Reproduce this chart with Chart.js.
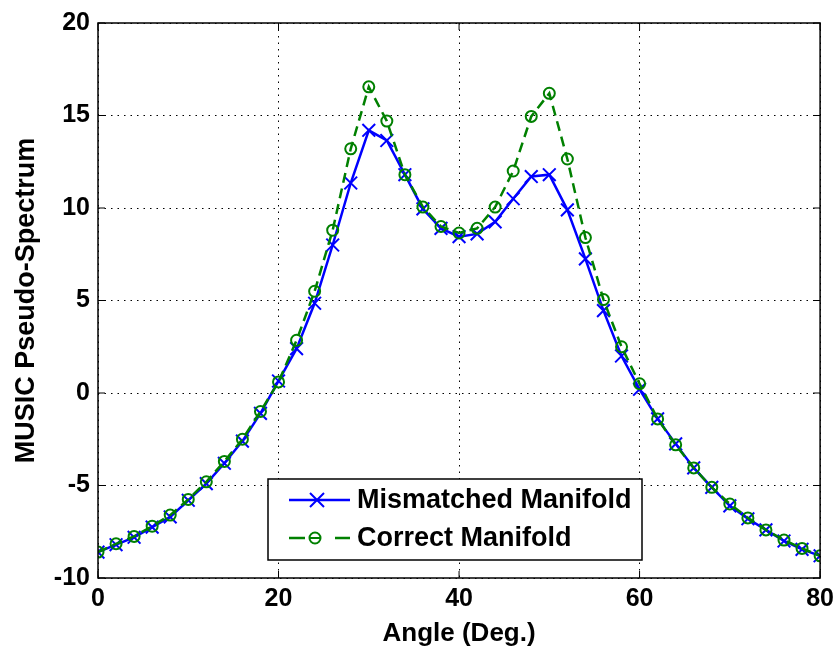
<!DOCTYPE html>
<html>
<head>
<meta charset="utf-8">
<script src="https://cdn.jsdelivr.net/npm/chart.js@4/dist/chart.umd.min.js"></script>
<style>
  html, body { margin: 0; padding: 0; background: #fff; }
  #wrap { width: 840px; height: 649px; }
</style>
</head>
<body>
<div id="wrap"><canvas id="musicChart" width="840" height="649"></canvas></div>
<script>
const angles = [0, 2, 4, 6, 8, 10, 12, 14, 16, 18, 20, 22, 24, 26, 28, 30, 32, 34, 36, 38, 40,
                42, 44, 46, 48, 50, 52, 54, 56, 58, 60, 62, 64, 66, 68, 70, 72, 74, 76, 78, 80];
const mismatched = [-8.6, -8.2, -7.8, -7.25, -6.7, -5.8, -4.9, -3.8, -2.6, -1.1, 0.65,
                    2.4, 4.85, 8.0, 11.35, 14.2, 13.65, 11.8, 9.95, 8.9, 8.45,
                    8.6, 9.25, 10.5, 11.7, 11.8, 9.9, 7.25, 4.45, 2.0, 0.2,
                    -1.4, -2.75, -4.05, -5.1, -6.1, -6.8, -7.4, -8.0, -8.45, -8.8];
const correct = [-8.6, -8.15, -7.75, -7.2, -6.6, -5.75, -4.8, -3.7, -2.5, -1.0, 0.6,
                 2.85, 5.5, 8.8, 13.2, 16.55, 14.7, 11.8, 10.05, 9.0, 8.65,
                 8.9, 10.05, 12.0, 14.95, 16.2, 12.65, 8.4, 5.05, 2.5, 0.5,
                 -1.4, -2.8, -4.05, -5.1, -6.0, -6.75, -7.4, -7.95, -8.4, -8.8];
const seriesNames = ["Mismatched Manifold", "Correct Manifold"];
const xTicks = [0, 20, 40, 60, 80];
const yTicks = [-10, -5, 0, 5, 10, 15, 20];

const blue = "#0000ff";
const green = "#008000";
const fam = "'Liberation Sans', Arial, sans-serif";
const tickFont = { family: fam, size: 25, weight: "bold" };

function toPoints(ys) {
  return angles.map((a, i) => ({ x: a, y: ys[i] }));
}

// box frame, inward ticks and the legend inside the plot
const matlabFrame = {
  id: "matlabFrame",
  afterDraw(chart) {
    const c = chart.ctx;
    const a = chart.chartArea;
    const xs = chart.scales.x, ys = chart.scales.y;
    c.save();
    c.strokeStyle = "#000";
    c.lineWidth = 1.5;
    c.strokeRect(a.left, a.top, a.right - a.left, a.bottom - a.top);
    c.lineWidth = 1;
    xTicks.forEach(v => {
      const p = xs.getPixelForValue(v);
      c.beginPath();
      c.moveTo(p, a.bottom); c.lineTo(p, a.bottom - 7);
      c.moveTo(p, a.top); c.lineTo(p, a.top + 7);
      c.stroke();
    });
    yTicks.forEach(v => {
      const p = ys.getPixelForValue(v);
      c.beginPath();
      c.moveTo(a.left, p); c.lineTo(a.left + 7, p);
      c.moveTo(a.right, p); c.lineTo(a.right - 7, p);
      c.stroke();
    });

    // legend
    const bx = 268, by = 479, bw = 374, bh = 81;
    c.fillStyle = "#fff";
    c.fillRect(bx, by, bw, bh);
    c.strokeStyle = "#000";
    c.lineWidth = 1.5;
    c.strokeRect(bx, by, bw, bh);
    const rows = [by + 21, by + 59];
    chart.data.datasets.forEach((ds, i) => {
      const yy = rows[i];
      c.strokeStyle = ds.borderColor;
      c.lineWidth = 2.5;
      c.beginPath();
      if (ds.borderDash) {
        c.moveTo(bx + 21, yy); c.lineTo(bx + 37, yy);
        c.moveTo(bx + 67, yy); c.lineTo(bx + 82, yy);
      } else {
        c.moveTo(bx + 21, yy); c.lineTo(bx + 82, yy);
      }
      c.stroke();
      c.lineWidth = 2;
      c.beginPath();
      if (ds.pointStyle === "crossRot") {
        const mx = bx + 49;
        c.moveTo(mx - 7, yy - 7); c.lineTo(mx + 7, yy + 7);
        c.moveTo(mx - 7, yy + 7); c.lineTo(mx + 7, yy - 7);
      } else {
        const mx = bx + 47;
        c.arc(mx, yy, 5.5, 0, Math.PI * 2);
        c.moveTo(mx - 6, yy); c.lineTo(mx + 6, yy);
      }
      c.stroke();
      c.fillStyle = "#000";
      c.font = "bold 27px " + fam;
      c.textBaseline = "middle";
      c.fillText(ds.label, bx + 89, yy + 1);
    });
    c.restore();
  }
};

new Chart(document.getElementById("musicChart"), {
  type: "line",
  data: {
    datasets: [
      {
        label: seriesNames[0],
        data: toPoints(mismatched),
        borderColor: blue,
        backgroundColor: blue,
        borderWidth: 2.5,
        pointStyle: "crossRot",
        pointRadius: 9,
        pointBorderWidth: 2,
        pointBorderColor: blue,
        tension: 0,
        order: 1
      },
      {
        label: seriesNames[1],
        data: toPoints(correct),
        borderColor: green,
        backgroundColor: "rgba(0,0,0,0)",
        borderWidth: 2.5,
        borderDash: [10, 6],
        pointStyle: "circle",
        pointRadius: 5.5,
        pointBorderWidth: 2,
        pointBorderColor: green,
        tension: 0,
        order: 0
      }
    ]
  },
  options: {
    responsive: false,
    animation: false,
    layout: { padding: { top: 20, right: 17, left: 0, bottom: 0 } },
    plugins: {
      legend: { display: false },
      tooltip: { enabled: false }
    },
    scales: {
      x: {
        type: "linear",
        min: 0,
        max: 80,
        afterBuildTicks: s => { s.ticks = xTicks.map(v => ({ value: v })); },
        ticks: { color: "#000", font: tickFont, padding: 6, maxRotation: 0 },
        grid: { color: "#000", lineWidth: 1, drawTicks: false },
        border: { display: false, dash: [1.5, 5] },
        title: { display: true, text: "Angle (Deg.)", color: "#000",
                 font: { family: fam, size: 26, weight: "bold" }, padding: { top: 2, bottom: 0 } },
        afterFit: s => { s.height = 71; }
      },
      y: {
        type: "linear",
        min: -10,
        max: 20,
        afterBuildTicks: s => { s.ticks = yTicks.map(v => ({ value: v })); },
        ticks: { color: "#000", font: tickFont, padding: 8 },
        grid: { color: "#000", lineWidth: 1, drawTicks: false },
        border: { display: false, dash: [1.5, 5] },
        title: { display: true, text: "MUSIC Pseudo-Spectrum", color: "#000",
                 font: { family: fam, size: 27, weight: "bold" }, padding: { top: 10, bottom: 0 } },
        afterFit: s => { s.width = 98; }
      }
    }
  },
  plugins: [matlabFrame]
});
</script>
</body>
</html>
